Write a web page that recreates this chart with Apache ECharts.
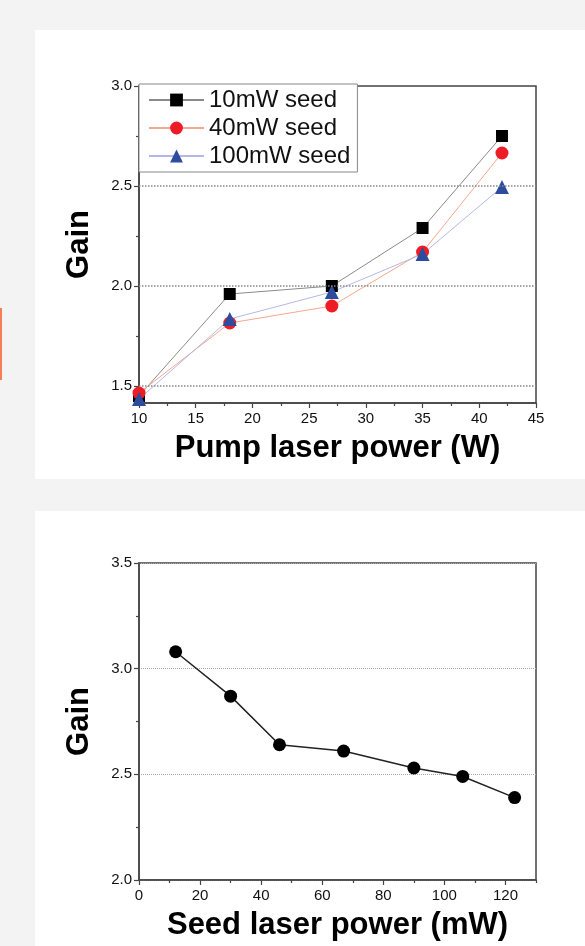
<!DOCTYPE html>
<html>
<head>
<meta charset="utf-8">
<script src="https://cdn.jsdelivr.net/npm/echarts@6/dist/echarts.min.js"></script>
<style>
  html, body { margin: 0; padding: 0; background: #f3f3f3; }
  body { width: 585px; height: 946px; position: relative; overflow: hidden; }
  .panel { position: absolute; background: #fff; }
  #p1 { left: 35px; top: 30px; width: 550px; height: 449px; }
  #p2 { left: 35px; top: 511px; width: 550px; height: 435px; }
  #bar { position: absolute; left: 0; top: 308px; width: 2px; height: 72px; background: #f47f57; }
</style>
</head>
<body>
<div id="bar"></div>
<div class="panel" id="p1"></div>
<div class="panel" id="p2"></div>
<script>
// 上图：泵浦功率 vs 增益
var pumpPower = [10, 18, 27, 35, 42];
var gain10mW = [1.45, 1.96, 2.00, 2.29, 2.75];
var gain40mW = [1.465, 1.815, 1.90, 2.17, 2.665];
var gain100mW = [1.435, 1.835, 1.97, 2.16, 2.495];
var seedNames = ['10mW seed', '40mW seed', '100mW seed'];
var gainTicksTop = [1.5, 2.0, 2.5, 3.0];
var gainMinorTop = [1.75, 2.25, 2.75];

// 下图：种子功率 vs 增益
var seedPower = [12, 30, 46, 67, 90, 106, 123];
var gainSeed = [3.08, 2.87, 2.64, 2.61, 2.53, 2.49, 2.39];
var seedTicks = [0, 20, 40, 60, 80, 100, 120];
var seedMinor = [10, 30, 50, 70, 90, 110, 130];

var font = 'Liberation Sans, Arial, sans-serif';
var axisColor = '#444';
var tickFont = 15;

function pairs(xs, ys) {
    return xs.map(function (x, i) { return [x, ys[i]]; });
}

function chart1() {
    var myChart = echarts.init(document.getElementById('p1'));
    var option = {
        animation: false,
        textStyle: { fontFamily: font },
        grid: {
            left: 104, top: 56, width: 397, height: 317,
            show: true, borderColor: axisColor, borderWidth: 1.5
        },
        legend: {
            left: 104, top: 54,
            orient: 'vertical',
            data: seedNames,
            itemWidth: 55, itemHeight: 16, itemGap: 4,
            padding: [4, 7, 4, 9],
            borderColor: '#888', borderWidth: 1,
            backgroundColor: '#fff',
            textStyle: { fontSize: 24, color: '#111', fontFamily: font }
        },
        xAxis: {
            type: 'value', min: 10, max: 45, interval: 5,
            name: 'Pump laser power (W)', nameLocation: 'middle', nameGap: 30,
            nameTextStyle: { fontSize: 31, fontWeight: 'bold', color: '#000', fontFamily: font },
            axisLine: { lineStyle: { color: axisColor, width: 1.5 } },
            axisTick: { length: 5, lineStyle: { color: axisColor, width: 1.2 } },
            minorTick: { show: true, splitNumber: 2, length: 3, lineStyle: { color: axisColor, width: 1.2 } },
            axisLabel: { fontSize: tickFont, color: '#111', margin: 8 },
            splitLine: { show: false }
        },
        yAxis: [{
            type: 'value', min: 1.415, max: 3.0, position: 'left',
            name: 'Gain', nameLocation: 'middle', nameGap: 44, nameRotate: 90,
            nameTextStyle: { fontSize: 31, fontWeight: 'bold', color: '#000', fontFamily: font },
            axisLine: { show: true, lineStyle: { color: axisColor, width: 1.5 } },
            axisTick: { length: 5, customValues: gainTicksTop, lineStyle: { color: axisColor, width: 1.2 } },
            axisLabel: {
                fontSize: tickFont, color: '#111', margin: 7, customValues: gainTicksTop,
                formatter: function (v) { return v.toFixed(1); }
            },
            splitLine: { show: false }
        }, {
            type: 'value', min: 1.415, max: 3.0, position: 'left',
            axisLine: { show: false },
            axisTick: { show: true, length: 3, customValues: gainMinorTop, lineStyle: { color: axisColor, width: 1.2 } },
            axisLabel: { show: false },
            splitLine: { show: false }
        }],
        series: [{
            name: seedNames[0], type: 'line',
            data: pairs(pumpPower, gain10mW),
            symbol: 'rect', symbolSize: 12,
            itemStyle: { color: '#000' },
            lineStyle: { color: '#8a8a8a', width: 1 },
            markLine: {
                silent: true, symbol: 'none', label: { show: false },
                lineStyle: { color: '#888', type: 'dotted', width: 1.5 },
                data: [{ yAxis: 1.5 }, { yAxis: 2.0 }, { yAxis: 2.5 }]
            }
        }, {
            name: seedNames[1], type: 'line',
            data: pairs(pumpPower, gain40mW),
            symbol: 'circle', symbolSize: 13,
            itemStyle: { color: '#ee1c24' },
            lineStyle: { color: '#f5a88e', width: 1 }
        }, {
            name: seedNames[2], type: 'line',
            data: pairs(pumpPower, gain100mW),
            symbol: 'triangle', symbolSize: 14,
            itemStyle: { color: '#2e4c9e' },
            lineStyle: { color: '#b3b8e6', width: 1 }
        }]
    };
    myChart.setOption(option);
}

function chart2() {
    var myChart = echarts.init(document.getElementById('p2'));
    var option = {
        animation: false,
        textStyle: { fontFamily: font },
        grid: {
            left: 104, top: 52, width: 397, height: 319,
            show: true, borderColor: axisColor, borderWidth: 1.5
        },
        xAxis: [{
            type: 'value', min: 0, max: 130, position: 'bottom',
            name: 'Seed laser power (mW)', nameLocation: 'middle', nameGap: 30,
            nameTextStyle: { fontSize: 31, fontWeight: 'bold', color: '#000', fontFamily: font },
            axisLine: { lineStyle: { color: axisColor, width: 1.5 } },
            axisTick: { length: 5, customValues: seedTicks, lineStyle: { color: axisColor, width: 1.2 } },
            axisLabel: { fontSize: tickFont, color: '#111', margin: 8, customValues: seedTicks },
            splitLine: { show: false }
        }, {
            type: 'value', min: 0, max: 130, position: 'bottom',
            axisLine: { show: false },
            axisTick: { show: true, length: 3, customValues: seedMinor, lineStyle: { color: axisColor, width: 1.2 } },
            axisLabel: { show: false },
            splitLine: { show: false }
        }],
        yAxis: {
            type: 'value', min: 2.0, max: 3.5, interval: 0.5,
            name: 'Gain', nameLocation: 'middle', nameGap: 44, nameRotate: 90,
            nameTextStyle: { fontSize: 31, fontWeight: 'bold', color: '#000', fontFamily: font },
            axisLine: { show: true, lineStyle: { color: axisColor, width: 1.5 } },
            axisTick: { length: 5, lineStyle: { color: axisColor, width: 1.2 } },
            minorTick: { show: true, splitNumber: 2, length: 3, lineStyle: { color: axisColor, width: 1.2 } },
            axisLabel: {
                fontSize: tickFont, color: '#111', margin: 7,
                formatter: function (v) { return v.toFixed(1); }
            },
            splitLine: { lineStyle: { color: '#aaa', type: 'dotted', width: 1 } }
        },
        series: [{
            type: 'line',
            data: pairs(seedPower, gainSeed),
            symbol: 'circle', symbolSize: 13,
            itemStyle: { color: '#000' },
            lineStyle: { color: '#222', width: 1.5 }
        }]
    };
    myChart.setOption(option);
}

chart1();
chart2();
</script>
</body>
</html>
